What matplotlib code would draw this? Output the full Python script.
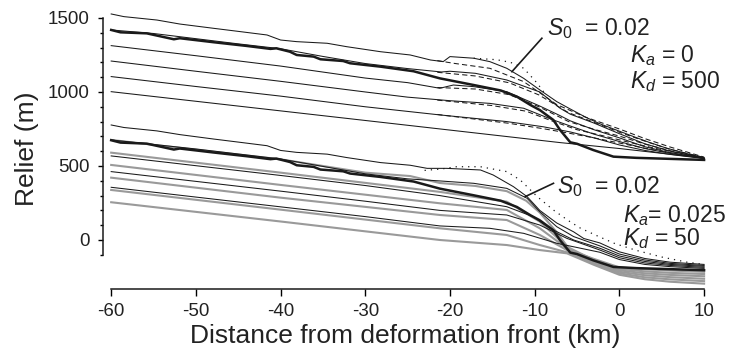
import matplotlib
matplotlib.use('Agg')
import matplotlib.pyplot as plt
from matplotlib.ticker import FixedLocator

plt.rcParams['font.family'] = ['Liberation Sans', 'DejaVu Sans']
plt.rcParams['mathtext.fontset'] = 'custom'
plt.rcParams['mathtext.it'] = 'Liberation Sans:italic'
plt.rcParams['mathtext.rm'] = 'Liberation Sans'
plt.rcParams['axes.unicode_minus'] = False

# ---- upper set (Ka = 0, Kd = 500) ----
# observed profile (thick), also drawn shifted down for the lower set
obs_x = [-60, -58.9, -55.8, -52.6, -51.9, -47.9, -44, -41.2, -40.5, -38.9, -38.1, -36.1, -35.3,
         -32.6, -31.8, -28.2, -24.3, -21.2, -17.2, -14, -12.1, -10.5, -9.4, -7.8, -7, -5.8, -5,
         -3.1, -0.7, 2, 6, 10]
obs_relief = [1419, 1403, 1396, 1356, 1363, 1336, 1311, 1291, 1295, 1272, 1250, 1239, 1221,
              1209, 1194, 1171, 1140, 1092, 1047, 1010, 968, 912, 878, 811, 743, 660, 650,
              608, 563, 555, 548, 541]
obs_shift = 745

a_x = [-60, -58.5, -54.6, -51.9, -47.9, -44.8, -41.6, -40, -38.1, -34.5, -32.2, -28.2, -24.7,
       -22.3, -20.8, -20, -17.2, -15.3, -13.3, -11.3, -9.4, -7.4, -5.8, -4, -2.3, 0, 1.7, 3.5,
       5.6, 8, 10]
a_y = [1527, 1509, 1486, 1459, 1430, 1408, 1385, 1351, 1340, 1329, 1306, 1272, 1250, 1216,
       1205, 1239, 1228, 1205, 1160, 1092, 1014, 935, 885, 830, 785, 735, 698, 660, 620, 583, 555]
b_x = [-60, -55, -50, -45, -40, -35, -30, -25, -21, -20, -17, -13.3, -9.4, -7, -5.8, -3, 0, 3, 6, 10]
b_y = [1419, 1395, 1360, 1325, 1292, 1240, 1192, 1158, 1135, 1140, 1126, 1081, 1000, 890, 850,
       790, 718, 650, 600, 553]
c_x = [-60, -50, -40, -30, -25, -21.2, -19.6, -17.2, -13.3, -9.4, -7, -5.8, -3, 0, 3, 6, 10]
c_y = [1313, 1245, 1175, 1094, 1063, 1025, 1047, 1036, 1002, 905, 840, 805, 745, 690, 630, 590, 552]
d_x = [-60, -50, -40, -30, -25, -20, -15.3, -11.3, -8, -5.8, -3, 0, 3, 6, 10]
d_y = [1209, 1140, 1072, 1000, 965, 941, 923, 890, 815, 770, 715, 665, 618, 585, 551]
e_x = [-60, -50, -40, -30, -21.2, -13.3, -9, -5.8, -3, 0, 3, 6, 10]
e_y = [1104, 1037, 972, 900, 845, 800, 765, 730, 690, 642, 605, 578, 550]
f_x = [-60, -25, -7, 0, 10]
f_y = [1002, 775, 658, 618, 553]

dash_a_x = [-21.5, -19.6, -15.3, -11.3, -7.4, -4, 0, 3, 6, 10]
dash_a_y = [1212, 1194, 1160, 1070, 915, 830, 750, 685, 628, 560]
dash_b_x = [-21.5, -17, -13, -9.5, -6, -3, 0, 3, 6, 10]
dash_b_y = [1133, 1108, 1062, 980, 860, 795, 728, 668, 612, 558]
dash_c_x = [-21.5, -17, -13, -9.5, -6, -3, 0, 3, 6, 10]
dash_c_y = [1030, 1020, 982, 900, 800, 748, 702, 648, 603, 556]
dash_d_x = [-21.5, -15, -11, -8, -5, -2, 1, 4, 7, 10]
dash_d_y = [945, 908, 870, 805, 745, 705, 662, 622, 588, 554]
dash_e_x = [-21.5, -13, -9, -6, -3, 0, 3, 6, 10]
dash_e_y = [848, 788, 752, 722, 690, 655, 620, 588, 552]

dot_top_x = [-17.2, -16.1, -14.5, -13.3, -12.5, -11.3, -10.5, -9.7, -8.8]
dot_top_y = [1228, 1224, 1218, 1205, 1194, 1160, 1110, 1059, 990]

# ---- lower set (Ka = 0.025, Kd = 50) ----
l1_x = [-60, -58.5, -54.6, -51.9, -47.9, -44.8, -41.6, -40, -38.1, -34.5, -32.2, -28.2, -24.7,
        -22.7, -20.4, -16.4, -14.9, -12.5, -10.9, -9.4, -7.4, -5.4, -4.2, -2.3, 0, 3, 6, 10]
l1_y = [777, 760, 737, 712, 682, 660, 637, 605, 592, 580, 557, 523, 505, 484, 484, 473, 439,
        360, 293, 200, 115, 55, 10, -20, -80, -125, -150, -165]
l2_x = [-60, -50, -40, -30, -25, -21.2, -17.2, -13.3, -10.9, -9.4, -7.4, -5.4, -2.3, 0, 3, 6, 10]
l2_y = [676, 615, 547, 447, 413, 399, 383, 349, 282, 191, 90, 23, -40, -95, -135, -158, -172]
l3_x = [-60, -50, -40, -30, -21.2, -13.3, -10.2, -8.2, -5.4, -2.3, 0, 3, 6, 10]
l3_y = [568, 502, 436, 368, 300, 225, 158, 79, 0, -56, -108, -145, -165, -178]
l4_x = [-60, -50, -40, -30, -21.2, -13.3, -9.4, -6.2, -2.3, 0, 3, 6, 10]
l4_y = [462, 396, 330, 262, 200, 169, 101, 11, -68, -120, -155, -172, -185]
l5_x = [-60, -50, -40, -30, -21.2, -15.3, -11.3, -7.4, -2.3, 0, 3, 6, 10]
l5_y = [356, 290, 224, 158, 95, 79, 45, -22, -83, -132, -165, -180, -192]

dot_low_x = [-23, -21, -19.2, -16.4, -13.3, -11.7, -9.7, -7.8, -6, -4.6, -2.5, -0.5, 2, 5, 8, 10]
dot_low_y = [470, 480, 495, 495, 462, 405, 293, 203, 130, 80, 25, -25, -70, -115, -150, -165]

gray_x0 = [-60, -50, -40, -30, -24.7, -21.2, -17, -13.3, -11, -9.4, -7.5, -5.8, -3, 0, 3, 6, 10]
gray_y0 = [676, 610, 545, 455, 432, 385, 365, 330, 265, 185, 60, -70, -128, -185, -198, -206, -215]
gray_x = [-60, -40, -21.2, -13.3, -9.4, -6.2, -3, 0, 3, 6, 10]
gray_y1 = [590, 455, 325, 259, 124, -45, -136, -195, -212, -222, -230]
gray_y2 = [507, 372, 248, 203, 79, -56, -144, -205, -225, -236, -245]
gray_y3 = [421, 286, 169, 135, 34, -68, -152, -215, -238, -251, -262]
gray_y4 = [338, 205, 79, 34, -34, -83, -160, -225, -252, -266, -278]
gray_y5 = [255, 125, 0, -34, -68, -90, -168, -235, -265, -282, -295]

fig = plt.figure(figsize=(7.4, 3.56), dpi=100)
ax = fig.add_axes([0.1388, 0.1874, 0.8184, 0.7871])

black = '#1a1a1a'
gray = '#9a9a9a'
thin = 0.75

# upper set
for xs, ys in [(a_x, a_y), (b_x, b_y), (c_x, c_y), (d_x, d_y), (e_x, e_y), (f_x, f_y)]:
    ax.plot(xs, ys, color=black, lw=thin)
for xs, ys in [(dash_a_x, dash_a_y), (dash_b_x, dash_b_y), (dash_c_x, dash_c_y),
               (dash_d_x, dash_d_y), (dash_e_x, dash_e_y)]:
    ax.plot(xs, ys, color=black, lw=thin, ls=(0, (5, 3)))
ax.plot(dot_top_x, dot_top_y, color=black, lw=0.9, ls=(0, (1, 4)))
ax.plot(obs_x, obs_relief, color=black, lw=1.8)

# lower set
for ys in [gray_y1, gray_y2, gray_y3, gray_y4, gray_y5]:
    ax.plot(gray_x, ys, color=gray, lw=1.5)
ax.plot(gray_x0, gray_y0, color=gray, lw=1.5)
for xs, ys in [(l1_x, l1_y), (l2_x, l2_y), (l3_x, l3_y), (l4_x, l4_y), (l5_x, l5_y)]:
    ax.plot(xs, ys, color=black, lw=thin)
ax.plot(dot_low_x, dot_low_y, color=black, lw=0.9, ls=(0, (1, 4)))
ax.plot(obs_x, [v - obs_shift for v in obs_relief], color=black, lw=1.8)

# labels on the two sets
ax.plot([-9.15, -12.69], [1363, 1137], color=black, lw=1.2)
ax.plot([-7.78, -11.12], [383, 293], color=black, lw=1.2)
fs = 16.5
tc = '#222222'
ax.text(-8.53, 1385, r'$S_{\mathrm{0}}$  = 0.02', fontsize=fs, color=tc)
ax.text(1.27, 1205, r'$K_a$ = 0', fontsize=fs, color=tc)
ax.text(1.27, 1027, r'$K_d$ = 500', fontsize=fs, color=tc)
ax.text(-7.34, 318, r'$S_{\mathrm{0}}$  = 0.02', fontsize=fs, color=tc)
ax.text(0.45, 124, r'$K_a$= 0.025', fontsize=fs, color=tc)
ax.text(0.45, -34, r'$K_d$ = 50', fontsize=fs, color=tc)

ax.set_xlim(-61, 10.5)
ax.set_ylim(-333, 1560)
ax.spines['top'].set_visible(False)
ax.spines['right'].set_visible(False)
ax.spines['left'].set_bounds(-100, 1500)
ax.spines['bottom'].set_bounds(-60, 10)
for s in ['left', 'bottom']:
    ax.spines[s].set_linewidth(1.1)
    ax.spines[s].set_color(black)

ax.set_xticks(range(-60, 11, 10))
ax.set_yticks([0, 500, 1000, 1500])
ax.yaxis.set_minor_locator(FixedLocator(range(-100, 1501, 100)))
ax.tick_params(axis='y', which='major', length=3.5, width=1, pad=6, labelsize=13.5, labelcolor=tc)
ax.tick_params(axis='y', which='minor', length=2.5, width=1)
ax.tick_params(axis='x', length=5, width=1, pad=5, labelsize=13.5, labelcolor=tc)

ax.set_xlabel('Distance from deformation front (km)', fontsize=19, color=tc, labelpad=3)
ax.set_ylabel('Relief (m)', fontsize=19, color=tc, labelpad=6)

plt.savefig('out.png', dpi=100)
plt.close()
